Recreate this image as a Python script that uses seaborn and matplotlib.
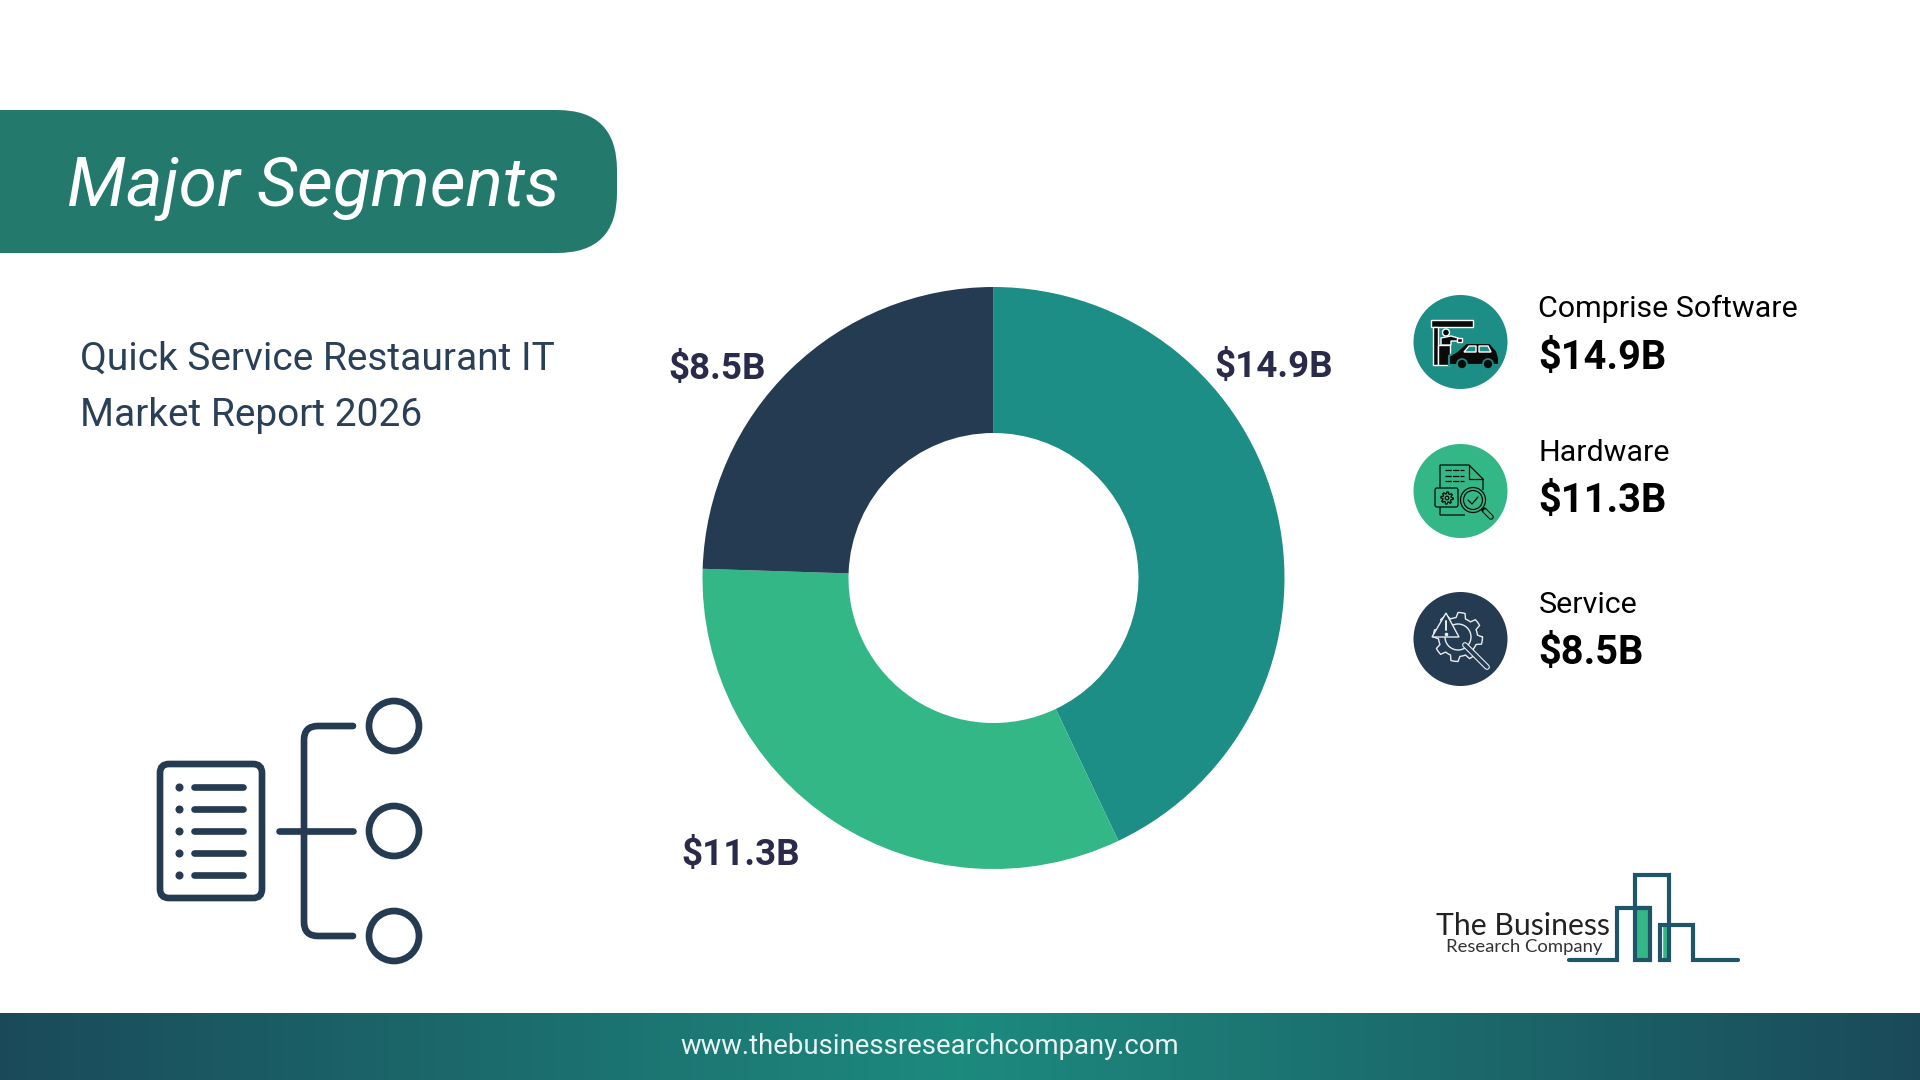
import numpy as np
import matplotlib
matplotlib.use("Agg")
import matplotlib.pyplot as plt
from matplotlib.patches import Circle, FancyBboxPatch, Rectangle, PathPatch, Polygon
from matplotlib.path import Path
from matplotlib.colors import LinearSegmentedColormap
import seaborn as sns

segments = ["Comprise Software", "Hardware", "Service"]
values = [14.9, 11.3, 8.5]
value_labels = ["$14.9B", "$11.3B", "$8.5B"]
title = "Major Segments"
subtitle = ["Quick Service Restaurant IT", "Market Report 2026"]
url = "www.thebusinessresearchcompany.com"

sns.set_theme(style="white")
plt.rcParams["font.family"] = ["Roboto", "DejaVu Sans"]
palette = sns.color_palette(["#1D8E85", "#34B786", "#243B52"])
NAVY = "#243B52"

fig = plt.figure(figsize=(19.2, 10.8), dpi=100, facecolor="white")
bg = fig.add_axes([0, 0, 1, 1])
bg.set_xlim(0, 1920); bg.set_ylim(1080, 0); bg.axis("off")

# banner
bg.add_patch(FancyBboxPatch((-80, 110), 697, 143, boxstyle="round,pad=0,rounding_size=60",
                            fc="#237A6C", ec="none", zorder=1))
bg.text(67, 206, title, color="white", fontsize=50, style="italic", va="baseline", ha="left", zorder=2)

# subtitle
bg.text(80, 370, subtitle[0], color="#2A4058", fontsize=28, va="baseline")
bg.text(80, 425.5, subtitle[1], color="#2A4058", fontsize=28, va="baseline")

# footer
grad2 = np.abs(np.linspace(-1, 1, 512)).reshape(1, -1)
cm_f = LinearSegmentedColormap.from_list("f", ["#1D8A7E", "#1A4A5A"])
bg.imshow(grad2, extent=[0, 1920, 1080, 1013], cmap=cm_f, aspect="auto", zorder=1)
bg.set_xlim(0, 1920); bg.set_ylim(1080, 0)
bg.text(930, 1047, url, color="#EAF3F3", fontsize=19.85, ha="center", va="center", zorder=2)

# donut
cx, cy, R = 993.5, 578, 291
ax = fig.add_axes([(cx - R) / 1920, 1 - (cy + R) / 1080, 2 * R / 1920, 2 * R / 1080])
ax.pie(values, colors=palette, startangle=90, counterclock=False, radius=1,
       wedgeprops=dict(width=1 - 145 / 291, linewidth=0))
ax.set_xlim(-1, 1); ax.set_ylim(-1, 1); ax.set_aspect("equal")
label_pos = [(1274, 367), (741, 855), (717, 369)]
for t, (x, y) in zip(value_labels, label_pos):
    bg.text(x, y, t, color="#2A2A4A", fontsize=26.5, fontweight="bold", ha="center", va="center")

# legend
ly = [342, 491, 639]
for y, c in zip(ly, palette):
    bg.add_patch(Circle((1460.5, y), 47, fc=c, ec="none"))
text_y = [(317, 369), (461, 512), (613, 664)]
for name, v, (a, b) in zip(segments, value_labels, text_y):
    bg.text(1538.5, a, name, color="black", fontsize=21.9, va="baseline")
    bg.text(1538, b, v, color="black", fontsize=28.6, va="baseline", fontweight="bold")

# icon 1: drive-through
k = "#0A0A0A"
bg.add_patch(Rectangle((1431, 320), 42, 7, fc=k, zorder=3))
bg.add_patch(Rectangle((1433, 327), 5, 38, fc=k, zorder=3))
bg.add_patch(Rectangle((1438, 345), 12, 20, fc=k, zorder=3))
bg.add_patch(Circle((1446, 332.5), 3.5, fc=k, zorder=3))
bg.add_patch(Polygon([(1441, 345), (1441, 338), (1451, 336), (1458, 338), (1458, 341), (1451, 341), (1451, 345)], fc=k, zorder=3))
bg.add_patch(Rectangle((1457, 338), 5, 4, fc=k, zorder=3))
car = [(1449, 365), (1449, 356), (1457, 351), (1466, 343), (1490, 343), (1497, 351), (1499, 358), (1499, 365)]
bg.add_patch(Polygon(car, fc=k, ec=palette[0], lw=1.5, zorder=3))
bg.add_patch(Polygon([(1464, 352), (1469, 346), (1476, 346), (1476, 352)], fc=palette[0], zorder=4))
bg.add_patch(Polygon([(1479, 346), (1488, 346), (1491, 352), (1479, 352)], fc=palette[0], zorder=4))
for x in (1462, 1488):
    bg.add_patch(Circle((x, 364), 5, fc=k, ec=palette[0], lw=1.2, zorder=4))

# icon 2: doc + gear + magnifier
lw2 = 0.9
doc = Path([(1465, 515), (1446, 515), (1440, 515), (1440, 509), (1440, 465), (1469, 465), (1483, 479), (1483, 490)])
bg.add_patch(PathPatch(doc, fc="none", ec=k, lw=lw2, zorder=3))
bg.plot([1469, 1469, 1483], [465, 479, 479], color=k, lw=lw2, zorder=3)
for y in (470, 476, 481):
    bg.plot([1445, 1464], [y, y], color=k, lw=lw2, ls=(0, (5, 1)), zorder=3)
bg.add_patch(FancyBboxPatch((1435, 488), 23, 19, boxstyle="round,pad=0,rounding_size=2", fc=palette[1], ec=k, lw=lw2, zorder=4))
ang2 = np.linspace(0, 2 * np.pi, 49)
rg2 = 5.2 + 0.9 * np.sign(np.sin(8 * ang2 + 0.3))
bg.plot(1447 + rg2 * np.cos(ang2), 498 + rg2 * np.sin(ang2), color=k, lw=lw2, zorder=5)
bg.add_patch(Circle((1447, 498), 1.8, fc="none", ec=k, lw=lw2, zorder=5))
bg.add_patch(Circle((1473, 500), 12.5, fc=palette[1], ec=k, lw=lw2, zorder=4))
bg.add_patch(Circle((1473, 500), 9.5, fc="none", ec=k, lw=lw2, zorder=5))
bg.plot([1468, 1472, 1478], [500, 504, 497], color=k, lw=lw2, zorder=5)
bg.plot([1484, 1491], [510, 517], color=k, lw=4, solid_capstyle="round", zorder=4)
bg.plot([1485, 1491], [511, 517], color=palette[1], lw=2.4, solid_capstyle="round", zorder=5)

# icon 3: gear + warning + wrench
w = "#E8EEF2"
ang = np.linspace(0, 2 * np.pi, 65)
rg = 22 + 2.5 * np.sign(np.sin(8 * ang + 0.3))
bg.plot(1458 + rg * np.cos(ang), 637 + rg * np.sin(ang), color=w, lw=1, zorder=3)
bg.add_patch(Circle((1458, 637), 13, fc="none", ec=w, lw=1, zorder=3))
bg.add_patch(Polygon([(1432, 637), (1446, 613), (1459, 637)], closed=True, fc=palette[2], ec=w, lw=1, zorder=4))
bg.plot([1445.5, 1445.5], [621, 630], color=w, lw=1.4, zorder=5)
bg.plot([1445.5], [634], marker="o", ms=1.6, color=w, zorder=5)
bg.plot([1465, 1487], [645, 667], color=w, lw=4.2, solid_capstyle="round", zorder=4)
bg.plot([1465, 1487], [645, 667], color=palette[2], lw=2.6, solid_capstyle="round", zorder=5)

# tree icon
lw3 = 4.8
bg.add_patch(FancyBboxPatch((160, 764), 102, 134, boxstyle="round,pad=0,rounding_size=9",
                            fc="none", ec=NAVY, lw=lw3, zorder=3))
for y in (787, 809, 831, 853, 875):
    bg.plot([179], [y], marker="o", ms=4.8, color=NAVY, zorder=3)
    bg.plot([194, 243], [y, y], color=NAVY, lw=lw3, solid_capstyle="round", zorder=3)
bg.plot([279, 353], [831, 831], color=NAVY, lw=lw3, solid_capstyle="round", zorder=3)
branch = Path([(353, 726), (318, 726), (304, 726), (304, 740), (304, 922), (304, 936), (318, 936), (353, 936)],
              [Path.MOVETO, Path.LINETO, Path.CURVE3, Path.CURVE3, Path.LINETO, Path.CURVE3, Path.CURVE3, Path.LINETO])
bg.add_patch(PathPatch(branch, fc="none", ec=NAVY, lw=lw3, capstyle="round", zorder=3))
for y in (726, 831, 936):
    bg.add_patch(Circle((394, y), 25, fc="none", ec=NAVY, lw=lw3, zorder=3))

# logo
t = "#1F5568"
bg.text(1523, 926, "The Business", color="#222222", fontsize=21.7, ha="center", va="center",
        family=["Lato", "DejaVu Sans"])
bg.text(1524, 947, "Research Company", color="#333333", fontsize=13.3, ha="center", va="center",
        family=["Lato", "DejaVu Sans"])
bg.add_patch(Rectangle((1635, 908), 15, 52, fc=palette[1], zorder=3))
bg.add_patch(Rectangle((1662, 925), 8, 35, fc=palette[1], zorder=3))
bg.plot([1569, 1617, 1617, 1650, 1650, 1635, 1635, 1650], [960, 960, 908, 908, 960, 960, 908, 908],
        color=t, lw=3, zorder=4, solid_joinstyle="miter")
bg.plot([1635, 1635, 1669, 1669, 1660, 1660, 1693, 1693, 1738], [908, 875, 875, 960, 960, 925, 925, 960, 960],
        color=t, lw=3, zorder=4, solid_joinstyle="miter")

fig.savefig("out.png", dpi=100, facecolor="white")
